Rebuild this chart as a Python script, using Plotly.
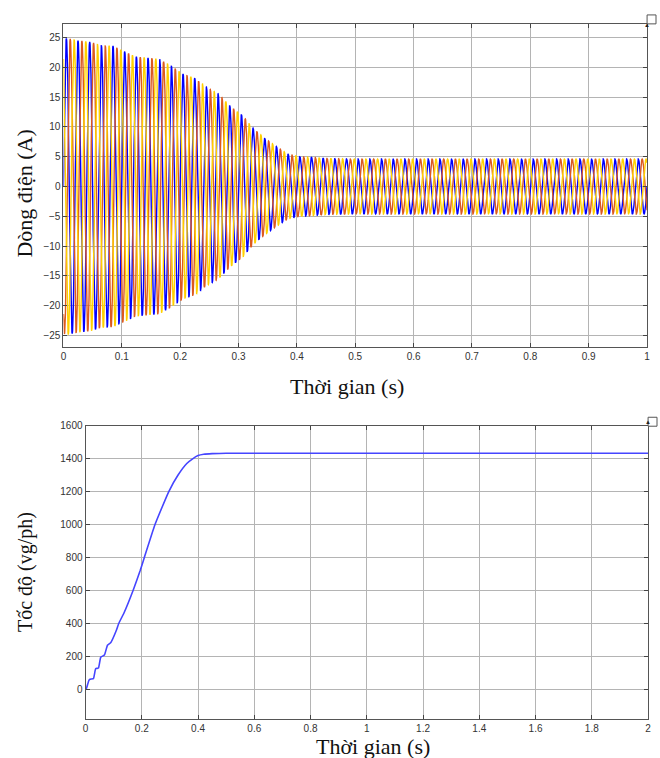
import numpy as np
import plotly.graph_objects as go

# ---------------- data ----------------
# Top: three-phase stator currents, 50 Hz; peak-amplitude envelope
freq_hz = 50.0
env_t = [0, 0.006, 0.025, 0.045, 0.065, 0.085, 0.104, 0.124, 0.144, 0.164, 0.184,
         0.205, 0.225, 0.246, 0.266, 0.286, 0.306, 0.325, 0.345, 0.365, 0.385,
         0.405, 0.425, 0.45, 0.5, 1.0]
env_a = [24.7, 24.9, 24.5, 24.3, 23.7, 23.6, 22.7, 21.8, 21.6, 21.4, 20.3,
         18.9, 18.2, 16.6, 15.5, 13.5, 12.0, 9.8, 8.1, 6.7, 5.4,
         5.0, 4.9, 4.7, 4.6, 4.6]
phase_names = ["ia", "ib", "ic"]
phase_shift_deg = [0, -120, 120]
phase_colors = ["#0000FF", "#DD5A1E", "#FFD000"]

# Bottom: rotor speed (vg/ph)
speed_t = [0, 0.003, 0.012, 0.016, 0.028, 0.036, 0.046, 0.054, 0.067, 0.078, 0.09,
           0.11, 0.118, 0.137, 0.169, 0.194, 0.209, 0.247, 0.296, 0.329, 0.36,
           0.382, 0.4, 0.42, 0.45, 0.5, 0.6, 1.0, 1.5, 2.0]
speed_v = [0, 5, 55, 62, 65, 125, 130, 195, 208, 268, 285,
           360, 400, 465, 600, 719, 800, 1000, 1200, 1300, 1370,
           1400, 1418, 1426, 1430, 1432, 1432, 1432, 1432, 1432]

top_xticks = [0, 0.1, 0.2, 0.3, 0.4, 0.5, 0.6, 0.7, 0.8, 0.9, 1]
top_xlabels = ["0", "0.1", "0.2", "0.3", "0.4", "0.5", "0.6", "0.7", "0.8", "0.9", "1"]
top_yticks = [-25, -20, -15, -10, -5, 0, 5, 10, 15, 20, 25]
bot_xticks = [0, 0.2, 0.4, 0.6, 0.8, 1, 1.2, 1.4, 1.6, 1.8, 2]
bot_xlabels = ["0", "0.2", "0.4", "0.6", "0.8", "1", "1.2", "1.4", "1.6", "1.8", "2"]
bot_yticks = [0, 200, 400, 600, 800, 1000, 1200, 1400, 1600]

# ---------------- figure ----------------
W, H = 660, 758
fig = go.Figure()

t = np.linspace(0, 1, 6001)
amp = np.interp(t, env_t, env_a)
for name, sh, col in zip(phase_names, phase_shift_deg, phase_colors):
    y = amp * np.sin(2 * np.pi * freq_hz * t + np.deg2rad(sh))
    fig.add_trace(go.Scatter(x=t, y=y, mode="lines", name=name,
                             line=dict(color=col, width=1.4),
                             xaxis="x", yaxis="y", showlegend=False))

fig.add_trace(go.Scatter(x=speed_t, y=speed_v, mode="lines", name="speed",
                         line=dict(color="#4545FF", width=1.6, shape="spline", smoothing=0.4),
                         xaxis="x2", yaxis="y2", showlegend=False))

tickfont = dict(family="Liberation Sans, Arial, sans-serif", size=10, color="#333333")
common = dict(showgrid=True, gridcolor="#B4B4B4", gridwidth=1, zeroline=False,
              showline=True, linecolor="#555555", linewidth=1, mirror="ticks",
              ticks="inside", ticklen=4, tickcolor="#444444", tickfont=tickfont)

fig.update_layout(
    width=W, height=H,
    margin=dict(l=0, r=0, t=0, b=0),
    paper_bgcolor="white", plot_bgcolor="white",
    xaxis=dict(domain=[61 / W, 650 / W], range=[0, 1.0001], anchor="y",
               tickvals=top_xticks, ticktext=top_xlabels, **common),
    yaxis=dict(domain=[1 - 344 / H, 1 - 19 / H], range=[-26.9, 27.3], anchor="x",
               tickvals=top_yticks, **common),
    xaxis2=dict(domain=[83.3 / W, 651 / W], range=[0, 2.0002], anchor="y2",
                tickvals=bot_xticks, ticktext=bot_xlabels, **common),
    yaxis2=dict(domain=[1 - 719 / H, 1 - 423.3 / H], range=[-181, 1600.5], anchor="x2",
                tickvals=bot_yticks, **common),
)

serif = "Liberation Serif, Times New Roman, serif"
annots = [
    dict(text="Dòng điện (A)", x=22 / W, y=1 - 190 / H, textangle=-90, size=22),
    dict(text="Thời gian (s)", x=347 / W, y=1 - 384 / H, textangle=0, size=22),
    dict(text="Tốc độ (vg/ph)", x=22 / W, y=1 - 571 / H, textangle=-90, size=20),
    dict(text="Thời gian (s)", x=373 / W, y=1 - 746 / H, textangle=0, size=22),
]
for a in annots:
    fig.add_annotation(text=a["text"], x=a["x"], y=a["y"], xref="paper", yref="paper",
                       showarrow=False, textangle=a["textangle"],
                       font=dict(family=serif, size=a["size"], color="#111111"),
                       xanchor="center", yanchor="middle")

# small scope-toolbar boxes at the top right of each panel
for (x0, y0) in [(650, 10), (651, 415)]:
    fig.add_shape(type="rect", xref="paper", yref="paper",
                  x0=x0 / W, x1=(x0 + 9) / W, y0=1 - (y0 + 9) / H, y1=1 - y0 / H,
                  line=dict(color="#555555", width=1), fillcolor="white")
    fig.add_annotation(text="▲", x=(x0 + 4.5) / W, y=1 - (y0 + 4.5) / H,
                       xref="paper", yref="paper", showarrow=False,
                       font=dict(size=6, color="#222222"))

fig.write_html("out.html",
               config={"displayModeBar": False},
               post_script="document.body.style.margin='0';document.body.style.overflow='hidden';")
